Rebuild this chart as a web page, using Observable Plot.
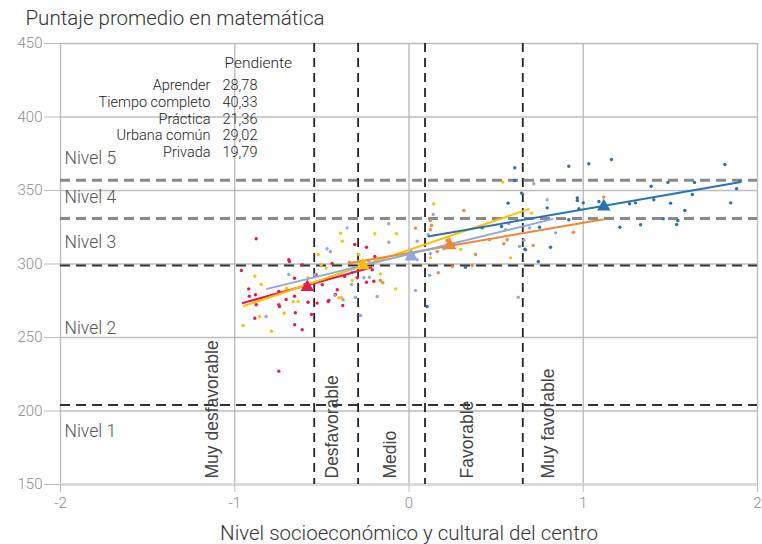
<!DOCTYPE html>
<html><head><meta charset="utf-8">
<script src="https://cdn.jsdelivr.net/npm/d3@7"></script>
<script src="https://cdn.jsdelivr.net/npm/@observablehq/plot@0.6"></script>
<style>body{margin:0;background:#fff}</style>
</head><body><div id="chart"></div>
<script>
// ---------- data ----------
const categories = ["Aprender", "Tiempo completo", "Práctica", "Urbana común", "Privada"];
const slopes = ["28,78", "40,33", "21,36", "29,02", "19,79"];
const colors = ["#e8184f", "#ffc000", "#f28633", "#8eaadc", "#2a72b5"];

const aprender = [[-0.877,317.2],[-0.690,302.9],[-0.686,301.7],[-0.613,299.5],[-0.962,295.6],[-0.657,290.3],[-0.920,283.1],[-0.916,278.1],[-0.881,279.1],[-0.747,281.3],[-0.877,272.3],[-0.747,272.3],[-0.743,271.1],[-0.705,275.9],[-0.657,278.1],[-0.579,274.0],[-0.527,273.4],[-0.652,266.8],[-0.560,265.7],[-0.885,263.1],[-0.656,258.7],[-0.613,255.3],[-0.747,227.1],[-0.533,292.7],[-0.498,285.9],[-0.464,274.5],[-0.441,300.4],[-0.598,285.9],[-0.311,313.3],[-0.244,311.4],[-0.196,305.1],[-0.211,296.1],[-0.370,291.5],[-0.297,290.6],[-0.244,287.6],[-0.202,288.3],[-0.412,282.5],[-0.422,279.3],[-0.460,275.2],[-0.380,271.8]];
const tiempoCompleto = [[-0.521,306.3],[-0.885,291.7],[-0.848,286.1],[-0.703,283.5],[-0.579,290.6],[-0.665,274.5],[-0.636,274.5],[-0.716,266.5],[-0.858,264.3],[-0.952,258.2],[-0.789,254.3],[-0.504,299.5],[-0.475,297.2],[-0.393,321.0],[-0.196,320.6],[-0.072,320.6],[-0.383,315.5],[-0.288,306.5],[-0.288,301.7],[-0.164,293.3],[-0.326,288.8],[-0.077,283.1],[-0.403,277.0],[-0.387,277.0],[0.538,355.7],[0.142,341.0],[0.228,317.8],[0.187,311.9],[0.296,309.9],[0.123,304.2],[0.583,304.2],[0.703,334.6]];
const practica = [[0.037,324.4],[-0.342,301.2],[-0.192,301.7],[-0.164,288.8],[-0.150,287.2],[0.315,336.4],[0.123,329.6],[0.129,326.2],[0.123,323.3],[0.219,316.0],[0.564,316.5],[0.544,313.8],[0.462,316.5],[0.162,308.5],[0.382,306.5],[0.248,298.3],[0.363,299.0],[0.168,294.0],[1.118,345.5],[0.943,321.6],[0.713,312.6]];
const urbanaComun = [[-0.470,310.4],[-0.451,308.5],[-0.690,292.9],[-0.541,292.7],[-0.820,264.3],[-0.426,278.6],[-0.355,324.6],[-0.116,327.4],[-0.116,314.8],[0.047,315.5],[-0.154,303.5],[-0.231,301.9],[-0.326,294.4],[-0.259,290.6],[-0.227,291.0],[-0.330,286.1],[-0.378,275.7],[-0.307,277.4],[-0.183,277.9],[0.037,282.0],[-0.278,265.0],[0.139,333.7],[0.110,319.9],[0.573,327.4],[0.554,323.3],[0.659,316.0],[0.634,311.9],[0.200,310.4],[0.123,307.0],[0.047,302.9],[0.118,292.2],[0.627,277.4],[0.716,354.6],[0.793,343.7],[0.692,324.6],[0.841,321.2]];
const privada = [[0.607,365.5],[0.606,356.8],[0.646,348.2],[0.569,341.4],[0.531,325.5],[0.420,324.6],[0.665,310.1],[0.324,297.8],[0.104,271.1],[0.917,366.5],[1.032,368.2],[1.162,371.1],[0.966,345.0],[0.966,343.2],[1.000,341.6],[1.090,342.5],[0.975,337.6],[1.266,341.0],[1.300,341.6],[0.793,338.2],[0.917,330.1],[1.210,325.0],[1.329,326.7],[0.749,325.0],[0.812,311.4],[0.742,301.7],[0.669,309.7],[1.813,367.7],[1.390,352.9],[1.486,355.5],[1.639,355.5],[1.880,351.2],[1.899,356.1],[1.626,347.3],[1.405,343.7],[1.501,341.4],[1.846,341.6],[1.583,336.4],[1.459,330.8],[1.543,329.6],[1.536,326.9]];
const seriesPoints = [aprender, tiempoCompleto, practica, urbanaComun, privada];

// group means (triangles)
const meanX = [-0.584, -0.265, 0.234, 0.013, 1.118];
const meanY = [284.2, 299.0, 312.6, 305.1, 339.1];
// fitted lines: start and end
const fitX1 = [-0.959, -0.953, -0.345, -0.820, 0.108];
const fitY1 = [273.3, 271.2, 300.5, 282.9, 318.7];
const fitX2 = [-0.212, 0.693, 1.118, 0.829, 1.897];
const fitY2 = [297.8, 337.5, 330.4, 330.7, 355.6];

// socioeconomic quintile bounds and labels
const segBounds = [-0.544, -0.292, 0.092, 0.653];
const segNames = ["Muy desfavorable", "Desfavorable", "Medio", "Favorable", "Muy favorable"];
const segLabelX = [-1.094, -0.410, -0.077, 0.365, 0.830];

// performance level bounds and labels
const levelBounds = [204, 299, 331, 357];
const levelNames = ["Nivel 1", "Nivel 2", "Nivel 3", "Nivel 4", "Nivel 5"];
const levelLabelY = [186, 256, 315, 345, 372];

const xTicks = [-2, -1, 0, 1, 2];
const yTicks = [150, 200, 250, 300, 350, 400, 450];

// ---------- build ----------
const pts = seriesPoints.flatMap((arr, i) => arr.map(([x, y]) => ({x, y, c: categories[i]})));
const means = categories.map((c, i) => ({c, x: meanX[i], y: meanY[i]}));
const fits = categories.map((c, i) => ({c, x1: fitX1[i], y1: fitY1[i], x2: fitX2[i], y2: fitY2[i]}));
const colorOf = c => colors[categories.indexOf(c)];

const chart = Plot.plot({
  width: 762, height: 544,
  marginLeft: 60, marginRight: 5, marginTop: 43, marginBottom: 60,
  style: {fontFamily: "Roboto, sans-serif", background: "#fff"},
  x: {domain: [-2, 2]},
  y: {domain: [150, 450]},
  marks: [
    Plot.gridX(xTicks, {stroke: "#bdbdbd", strokeOpacity: 1, strokeWidth: 1.4}),
    Plot.gridY(yTicks.filter(d => d > 150), {stroke: "#bdbdbd", strokeOpacity: 1, strokeWidth: 1.4}),
    Plot.ruleY([150], {stroke: "#dcdcdc", strokeWidth: 3}),
    Plot.axisX(xTicks, {tickSize: 8, tickPadding: 5, tickFormat: d => String(d), stroke: "#bdbdbd", fill: "#8c8c8c", fontSize: 15, fontWeight: 300, label: null}),
    Plot.axisY(yTicks, {tickSize: 16, tickPadding: 2, stroke: "#bdbdbd", fill: "#8c8c8c", fontSize: 15, fontWeight: 300, label: null}),
    // level bounds
    Plot.ruleY(levelBounds, {stroke: d => d > 300 ? "#8a8a8a" : "#333", strokeWidth: d => d > 300 ? 3 : 2, strokeDasharray: "10,6"}),
    // quintile bounds
    Plot.ruleX(segBounds, {stroke: "#222", strokeWidth: 1.8, strokeDasharray: "9,6"}),
    // labels
    Plot.text(levelNames, {y: levelLabelY, frameAnchor: "left", dx: 4, textAnchor: "start", fontSize: 17.5, fontWeight: 300, fill: "#555"}),
    Plot.text(segNames, {x: segLabelX, frameAnchor: "bottom", dy: -6, rotate: -90, textAnchor: "start", fontSize: 17.5, fill: "#444", fontFamily: "Liberation Sans, Arial, sans-serif"}),
    // points
    Plot.dot(pts, {x: "x", y: "y", r: 1.7, fill: d => colorOf(d.c), stroke: "none"}),
    // fitted lines
    Plot.link(fits, {x1: "x1", y1: "y1", x2: "x2", y2: "y2", stroke: d => colorOf(d.c), strokeWidth: 2}),
    // means
    Plot.dot(means, {x: "x", y: "y", symbol: "triangle", r: 5, fill: d => colorOf(d.c), stroke: "none"}),
    // legend (slopes)
    Plot.text(["Pendiente"], {frameAnchor: "top-left", dx: 164, dy: 13, textAnchor: "start", lineAnchor: "top", fontSize: 15.5, fontWeight: 300, fill: "#222"}),
    Plot.text([categories.join("\n")], {frameAnchor: "top-left", dx: 150, dy: 35, textAnchor: "end", lineAnchor: "top", lineHeight: 1.15, fontSize: 14.5, fontWeight: 300, fill: "#222"}),
    Plot.text([slopes.join("\n")], {frameAnchor: "top-left", dx: 162, dy: 35, textAnchor: "start", lineAnchor: "top", lineHeight: 1.15, fontSize: 14.5, fontWeight: 300, fill: "#222"}),
    // title and x label
    Plot.text(["Puntaje promedio en matemática"], {frameAnchor: "top-left", dx: -35, dy: -25, textAnchor: "start", lineAnchor: "middle", fontSize: 20.5, fontWeight: 300, fill: "#333"}),
    Plot.text(["Nivel socioeconómico y cultural del centro"], {frameAnchor: "bottom", dy: 49, lineAnchor: "middle", fontSize: 20.5, fontWeight: 300, fill: "#333"})
  ]
});
document.getElementById("chart").appendChild(chart);
</script></body></html>
